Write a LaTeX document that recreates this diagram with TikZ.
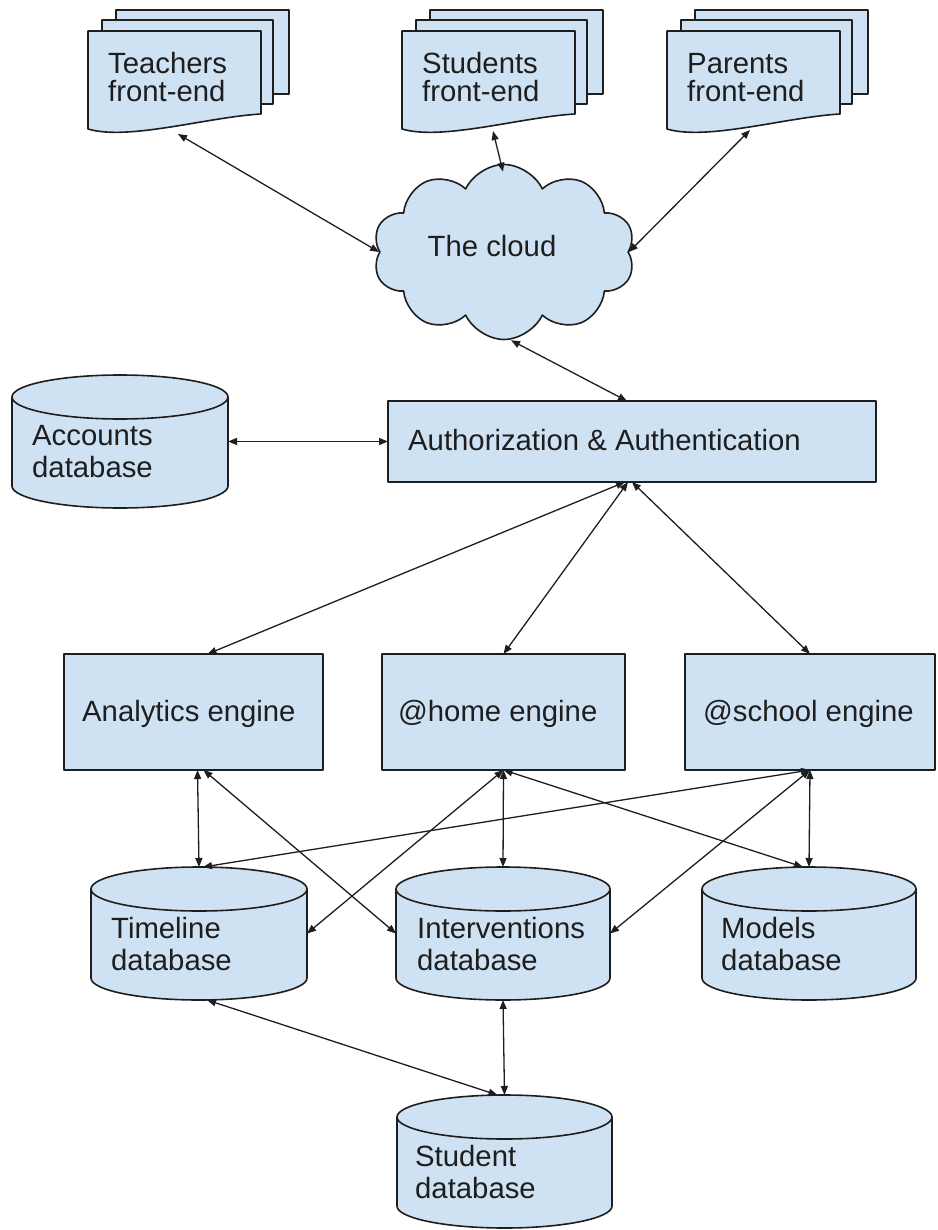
\documentclass[tikz,border=0pt]{standalone}
\usepackage{fontspec}
\setmainfont{Liberation Sans}
\usetikzlibrary{shapes.symbols,arrows.meta,calc}
\definecolor{fillb}{HTML}{CFE2F3}
\definecolor{ink}{HTML}{1E1E1E}
\tikzset{
  shp/.style={draw=ink, fill=fillb, line width=1.6pt, line join=round},
  hid/.style={inner sep=0pt, outer sep=0pt},
  lbl/.style={anchor=base west, align=left, inner sep=0pt, text=ink, font=\fontsize{29.3pt}{32pt}\selectfont},
  dlbl/.style={lbl, font=\fontsize{29.3pt}{28pt}\selectfont},
  arr/.style={{Triangle[length=9pt,width=7pt]}-{Triangle[length=9pt,width=7pt]}, line width=1.3pt, draw=ink},
}
% document stack: name, left, top of front sheet
\newcommand\docstack[3]{%
  \pgfmathsetmacro\dL{#2}\pgfmathsetmacro\dT{#3}%
  \filldraw[shp] (\dL+28,\dT-21) rectangle (\dL+201,\dT+63);
  \filldraw[shp] (\dL+14,\dT-11) rectangle (\dL+185,\dT+73);
  \filldraw[shp] (\dL,\dT) -- (\dL+173,\dT) -- (\dL+173,\dT+83)
     .. controls (\dL+120,\dT+86) and (\dL+40,\dT+110) .. (\dL,\dT+98) -- cycle;
  \node[hid, minimum width=173pt, minimum height=98pt] (#1) at (\dL+86.5,\dT+49) {};
}
% database cylinder: name, left, right, top, bottom, ry
\newcommand\dbcyl[6]{%
  \pgfmathsetmacro\cL{#2}\pgfmathsetmacro\cR{#3}%
  \pgfmathsetmacro\cT{#4}\pgfmathsetmacro\cB{#5}\pgfmathsetmacro\cry{#6}%
  \pgfmathsetmacro\cx{(\cL+\cR)/2}\pgfmathsetmacro\crx{(\cR-\cL)/2}%
  \pgfmathsetmacro\ct{\cT+\cry}\pgfmathsetmacro\cb{\cB-\cry}%
  \pgfmathsetmacro\kx{0.5523*\crx}\pgfmathsetmacro\ky{0.5523*\cry}%
  \filldraw[shp] (\cL,\ct) -- (\cL,\cb)
     .. controls (\cL,\cb+\ky) and (\cx-\kx,\cB) .. (\cx,\cB)
     .. controls (\cx+\kx,\cB) and (\cR,\cb+\ky) .. (\cR,\cb)
     -- (\cR,\ct)
     .. controls (\cR,\ct-\ky) and (\cx+\kx,\cT) .. (\cx,\cT)
     .. controls (\cx-\kx,\cT) and (\cL,\ct-\ky) .. (\cL,\ct) -- cycle;
  \draw[shp, fill=none] (\cL,\ct)
     .. controls (\cL,\ct+\ky) and (\cx-\kx,\ct+\cry) .. (\cx,\ct+\cry)
     .. controls (\cx+\kx,\ct+\cry) and (\cR,\ct+\ky) .. (\cR,\ct);
  \node[hid, minimum width=\cR-\cL, minimum height=\cB-\cT] (#1) at (\cx,{(\cT+\cB)/2}) {};
}
\begin{document}
\begin{tikzpicture}[x=1pt,y=-1pt]
\useasboundingbox (0,0) rectangle (937,1230);
% front-ends
\docstack{tf}{88}{31}
\docstack{sf}{402}{31}
\docstack{pf}{667}{31}
\node[dlbl] (tft) at (108,102) {Teachers\\front-end};
\node[dlbl] (sft) at (422,102) {Students\\front-end};
\node[dlbl] (pft) at (687,102) {Parents\\front-end};
% cloud
\node[shp, cloud, cloud puffs=10, cloud puff arc=130, cloud ignores aspect,
      minimum width=262pt, minimum height=175pt, inner sep=0pt] (cloud) at (504,252) {};
\node[lbl, anchor=base] (cloudt) at (492,257) {The cloud};
% auth + accounts
\node[shp, hid, minimum width=488pt, minimum height=81pt] (auth) at (632,441.5) {};
\node[lbl] (autht) at (408,450) {Authorization \& Authentication};
\dbcyl{acc}{12}{228}{375}{508}{22}
\node[lbl] (acct) at (32,477) {Accounts\\database};
% engines
\node[shp, hid, minimum width=259pt, minimum height=116pt] (an) at (193.5,712) {};
\node[shp, hid, minimum width=243pt, minimum height=116pt] (hm) at (503.5,712) {};
\node[shp, hid, minimum width=250pt, minimum height=116pt] (sc) at (810,712) {};
\node[lbl] (ant) at (82,721) {Analytics engine};
\node[lbl] (hmt) at (398,721) {@home engine};
\node[lbl] (sct) at (703,721) {@school engine};
% databases
\dbcyl{tl}{91}{307}{867}{1000}{22}
\dbcyl{iv}{396}{610}{867}{1000}{22}
\dbcyl{md}{702}{916}{867}{1000}{22}
\dbcyl{st}{397}{612}{1095}{1228}{22}
\node[lbl] (tlt) at (111,970) {Timeline\\database};
\node[lbl] (ivt) at (417,970) {Interventions\\database};
\node[lbl] (mdt) at (721,970) {Models\\database};
\node[lbl] (stt) at (415,1198) {Student\\database};
% connectors
\coordinate (tfb) at (178,134);
\coordinate (sfb) at (493,131);
\coordinate (pfb) at (750,130);
\draw[arr] (tfb) -- (cloud.west);
\draw[arr] (sfb) -- ([xshift=-1pt,yshift=-8pt]cloud.north);
\draw[arr] (pfb) -- (cloud.east);
\draw[arr] ([xshift=7pt]cloud.south) -- ([xshift=-5pt]auth.north);
\draw[arr] (acc.east) -- (auth.west);
\draw[arr] ([xshift=-7pt]auth.south) -- ([xshift=14pt]an.north);
\draw[arr] ([xshift=-4pt]auth.south) -- (hm.north);
\draw[arr] (auth.south) -- (sc.north);
\draw[arr] ([xshift=4pt]an.south) -- (tl.north);
\draw[arr] ([xshift=10pt]an.south) -- (iv.west);
\draw[arr] (hm.south) -- (tl.east);
\draw[arr] (hm.south) -- (iv.north);
\draw[arr] (hm.south) -- ([xshift=-6pt]md.north);
\draw[arr] (sc.south) -- ([xshift=4pt]tl.north);
\draw[arr] (sc.south) -- (iv.east);
\draw[arr] (sc.south) -- (md.north);
\draw[arr] ([xshift=8pt]tl.south) -- ([xshift=-7pt]st.north);
\draw[arr] (iv.south) -- (st.north);
\end{tikzpicture}
\end{document}
